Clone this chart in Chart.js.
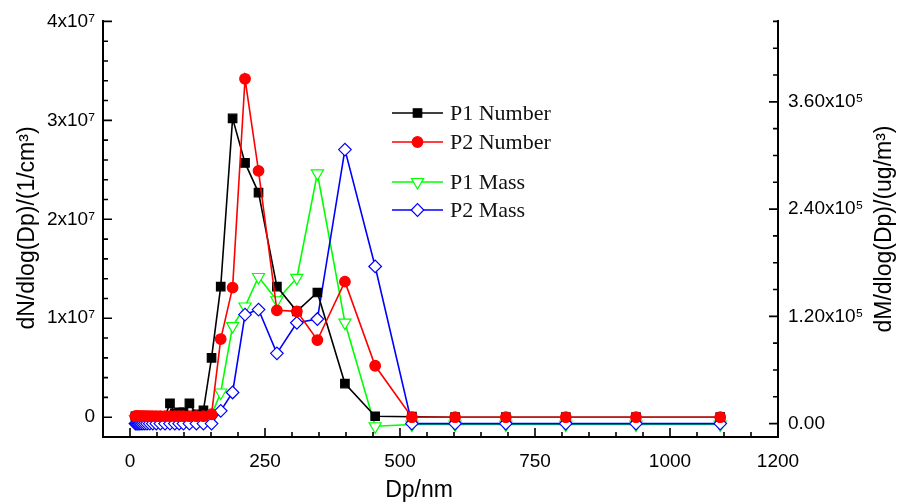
<!DOCTYPE html>
<html lang="en">
<head>
<meta charset="UTF-8">
<title>Particle size distribution</title>
<style>
    html, body { margin: 0; padding: 0; background: #fff; }
    #wrap { width: 909px; height: 504px; }
</style>
</head>
<body>
<div id="wrap"><canvas id="psd" width="909" height="504"></canvas></div>

<script src="https://cdn.jsdelivr.net/npm/chart.js@4"></script>
<script>
    // particle diameter bins (nm)
    const sizes = [10, 11.5, 13.3, 15.4, 17.8, 20.5, 23.7, 27.4, 31.6, 36.5, 42.2, 48.7, 56.2, 64.9,
        74, 83, 91, 99, 110, 123, 136, 151, 168, 190, 213, 238, 272, 309, 347, 398, 454, 522,
        602, 696, 807, 937, 1093];

    // number distributions, left axis (1/cm3)
    const p1Number = [1e5, 1e5, 1e5, 1e5, 1e5, 1e5, 1e5, 1e5, 1e5, 1e5, 1e5, 1e5, 1e5, 1e5,
        1.4e6, 0.4e6, 0.5e6, 0.5e6, 1.4e6, 0.3e6, 0.7e6, 6.0e6, 13.2e6, 30.2e6, 25.7e6, 22.7e6,
        13.2e6, 10.7e6, 12.6e6, 3.4e6, 0.1e6, 0.05e6, 0, 0, 0, 0, 0];
    const p2Number = [1e5, 1e5, 1e5, 1e5, 1e5, 1e5, 1e5, 1e5, 1e5, 1e5, 1e5, 1e5, 1e5, 1e5,
        1e5, 1e5, 1e5, 1e5, 1e5, 1e5, 1e5, 0.3e6, 7.9e6, 13.1e6, 34.2e6, 24.9e6,
        10.8e6, 10.7e6, 7.8e6, 13.7e6, 5.2e6, 0, 0, 0, 0, 0, 0];

    // mass distributions, right axis (ug/m3)
    const p1Mass = [5e3, 5e3, 5e3, 5e3, 5e3, 5e3, 5e3, 5e3, 5e3, 5e3, 5e3, 5e3, 5e3, 5e3,
        5e3, 5e3, 5e3, 5e3, 5e3, 5e3, 5e3, 9.5e3, 34.8e3, 109e3, 131e3, 164e3,
        138e3, 163e3, 280e3, 113e3, -3e3, -1e3, -1e3, -1e3, -1e3, -1e3, -1e3];
    const p2Mass = [0, 0, 0, 0, 0, 0, 0, 0, 0, 0, 0, 0, 0, 0,
        0, 0, 0, 0, 0, 0, 0, 0, 14.3e3, 34.8e3, 122e3, 127.6e3,
        78.6e3, 112.8e3, 117e3, 306.6e3, 175.8e3, 0, 0, 0, 0, 0, 0];

    const xTickValues = [0, 250, 500, 750, 1000, 1200];
    const xTickLabels = ['0', '250', '500', '750', '1000', '1200'];
    const leftTickValues = [0, 1e7, 2e7, 3e7, 4e7];
    const leftTickLabels = ['0', '1x10⁷', '2x10⁷', '3x10⁷', '4x10⁷'];
    const rightTickValues = [0, 1.2e5, 2.4e5, 3.6e5];
    const rightTickLabels = ['0.00', '1.20x10⁵', '2.40x10⁵', '3.60x10⁵'];

    const pairs = vals => sizes.map((s, i) => ({ x: s, y: vals[i] }));

    const sans = '"Liberation Sans", Arial, sans-serif';
    const serif = '"Liberation Serif", "Times New Roman", serif';
    Chart.defaults.font.family = sans;
    Chart.defaults.color = '#000';

    const datasets = [
        { label: 'P1 Number', data: pairs(p1Number), yAxisID: 'yL', order: 1,
          borderColor: '#000', backgroundColor: '#000', pointStyle: 'rect', pointRadius: 6 },
        { label: 'P2 Number', data: pairs(p2Number), yAxisID: 'yL', order: 0,
          borderColor: '#ff0000', backgroundColor: '#ff0000', pointStyle: 'circle', pointRadius: 5.3 },
        { label: 'P1 Mass', data: pairs(p1Mass), yAxisID: 'yR', order: 3,
          borderColor: '#00ff00', backgroundColor: '#fff', pointStyle: 'triangle', pointRotation: 180, pointRadius: 7 },
        { label: 'P2 Mass', data: pairs(p2Mass), yAxisID: 'yR', order: 2,
          borderColor: '#0000ff', backgroundColor: '#fff', pointStyle: 'rectRot', pointRadius: 6.3 }
    ];
    datasets.forEach(d => {
        d.showLine = true;
        d.borderWidth = 1.6;
        d.pointBorderWidth = 1.2;
        d.pointBorderColor = d.borderColor;
        d.pointBackgroundColor = d.backgroundColor;
        d.pointHoverRadius = d.pointRadius;
    });

    function labelFrom(labels) {
        return (value, index) => labels[index];
    }

    // inward ticks, axis titles and the legend, Origin style
    const decorations = {
        id: 'decorations',
        afterDraw(chart) {
            const ctx = chart.ctx;
            const area = chart.chartArea;
            const { x, yL, yR } = chart.scales;
            ctx.save();
            ctx.strokeStyle = '#000';
            ctx.lineWidth = 1.6;
            ctx.beginPath();
            for (let i = 0; i <= 25; i++) {
                const v = -50 + i * 50;
                const px = x.getPixelForValue(v);
                const len = xTickValues.includes(v) ? 9 : 5;
                ctx.moveTo(px, area.bottom);
                ctx.lineTo(px, area.bottom - len);
            }
            for (let i = 0; i <= 21; i++) {
                const v = -2e6 + i * 2e6;
                const py = yL.getPixelForValue(v);
                const len = leftTickValues.some(t => Math.abs(t - v) < 1) ? 9 : 5;
                ctx.moveTo(area.left, py);
                ctx.lineTo(area.left + len, py);
            }
            for (let i = 0; i <= 15; i++) {
                const v = i * 3e4;
                const py = yR.getPixelForValue(v);
                const len = rightTickValues.some(t => Math.abs(t - v) < 1) ? 9 : 5;
                ctx.moveTo(area.right, py);
                ctx.lineTo(area.right - len, py);
            }
            ctx.stroke();

            // axis titles
            ctx.fillStyle = '#000';
            ctx.font = '23px ' + sans;
            ctx.textAlign = 'center';
            ctx.textBaseline = 'alphabetic';
            ctx.fillText('Dp/nm', 419, 497);
            ctx.textBaseline = 'middle';
            ctx.save();
            ctx.translate(28, 228);
            ctx.rotate(-Math.PI / 2);
            ctx.fillText('dN/dlog(Dp)/(1/cm³)', 0, 0);
            ctx.restore();
            ctx.save();
            ctx.translate(885, 229);
            ctx.rotate(-Math.PI / 2);
            ctx.fillText('dM/dlog(Dp)/(ug/m³)', 0, 0);
            ctx.restore();

            // legend
            const rows = [113, 142, 182, 210];
            const order = [0, 1, 2, 3];
            ctx.font = '22px ' + serif;
            ctx.textAlign = 'left';
            order.forEach((di, r) => {
                const ds = chart.data.datasets[di];
                const y = rows[r];
                ctx.strokeStyle = ds.borderColor;
                ctx.lineWidth = 1.6;
                ctx.beginPath();
                ctx.moveTo(392, y);
                ctx.lineTo(443, y);
                ctx.stroke();
                ctx.fillStyle = ds.backgroundColor;
                ctx.lineWidth = 1.2;
                Chart.helpers.drawPoint(ctx, {
                    pointStyle: ds.pointStyle,
                    rotation: ds.pointRotation || 0,
                    radius: ds.pointRadius,
                    borderWidth: 1.2
                }, 417.5, y);
                ctx.fillStyle = '#111';
                ctx.fillText(ds.label, 450, y + 1);
            });
            ctx.restore();
        }
    };

    new Chart(document.getElementById('psd'), {
        type: 'scatter',
        data: { datasets: datasets },
        options: {
            responsive: false,
            animation: false,
            layout: { padding: { top: 20, left: 0, right: 0, bottom: 0 } },
            plugins: { legend: { display: false }, tooltip: { enabled: false } },
            scales: {
                x: {
                    type: 'linear', position: 'bottom', min: -50, max: 1200,
                    grid: { display: false, drawTicks: false },
                    border: { display: true, color: '#000', width: 2 },
                    afterBuildTicks: s => { s.ticks = xTickValues.map(v => ({ value: v })); },
                    afterFit: s => { s.height = 67; },
                    ticks: { callback: labelFrom(xTickLabels), font: { size: 19 }, padding: 13,
                             maxRotation: 0, autoSkip: false, color: '#000' }
                },
                yL: {
                    type: 'linear', position: 'left', min: -2e6, max: 4e7,
                    grid: { display: false, drawTicks: false },
                    border: { display: true, color: '#000', width: 2 },
                    afterBuildTicks: s => { s.ticks = leftTickValues.map(v => ({ value: v })); },
                    afterFit: s => { s.width = 103; },
                    ticks: { callback: labelFrom(leftTickLabels), font: { size: 19 }, padding: 8, color: '#000' }
                },
                yR: {
                    type: 'linear', position: 'right', min: -15000, max: 450000,
                    grid: { display: false, drawTicks: false },
                    border: { display: true, color: '#000', width: 2 },
                    afterBuildTicks: s => { s.ticks = rightTickValues.map(v => ({ value: v })); },
                    afterFit: s => { s.width = 131; },
                    ticks: { callback: labelFrom(rightTickLabels), font: { size: 19 }, padding: 10, color: '#000' }
                }
            }
        },
        plugins: [decorations]
    });
</script>
</body>
</html>
